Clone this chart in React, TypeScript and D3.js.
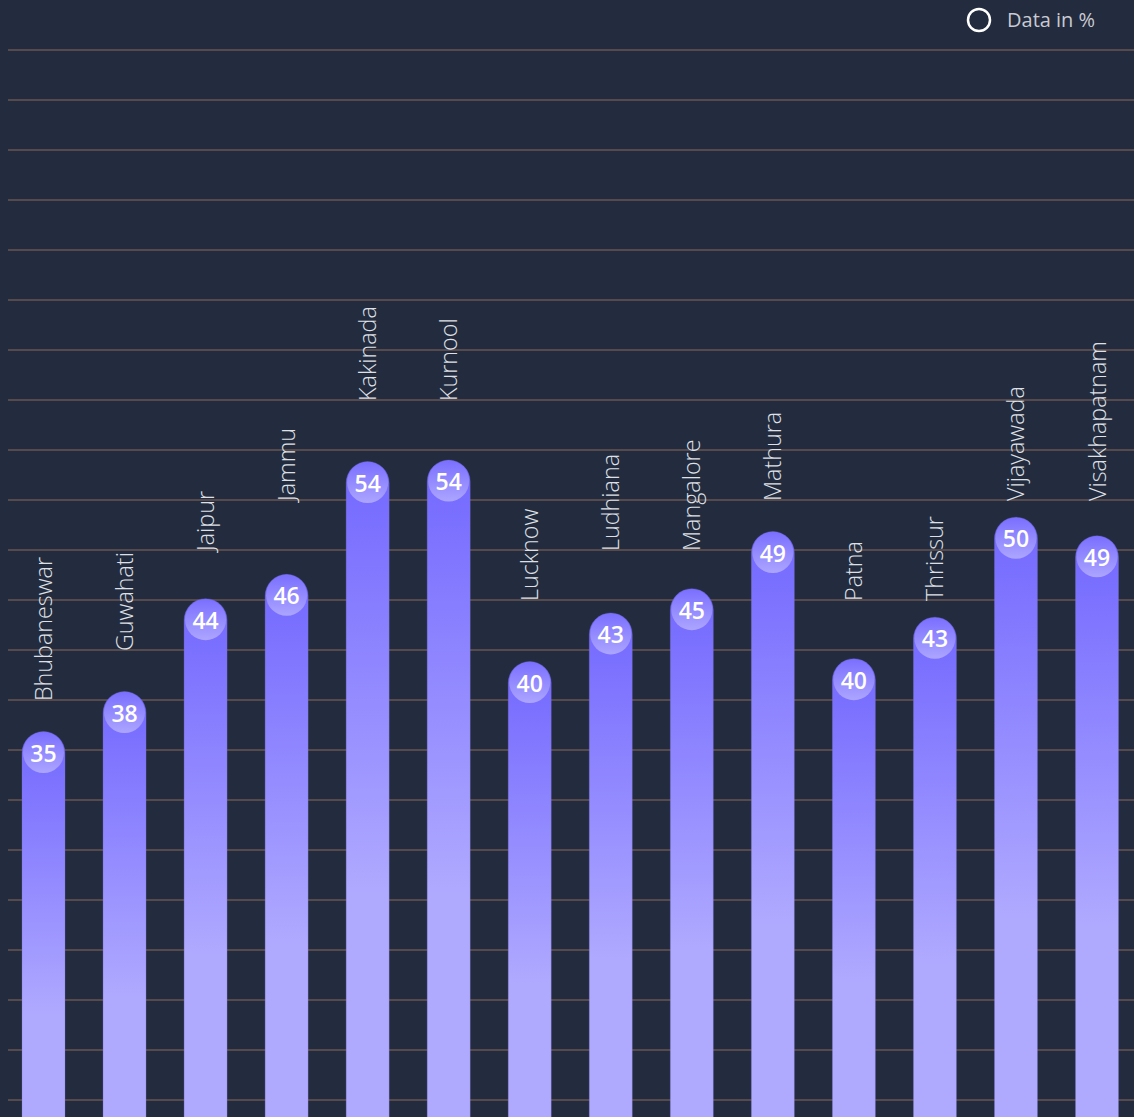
import React from "react";
import * as d3 from "d3";

const cities = [
  "Bhubaneswar", "Guwahati", "Jaipur", "Jammu", "Kakinada", "Kurnool", "Lucknow",
  "Ludhiana", "Mangalore", "Mathura", "Patna", "Thrissur", "Vijayawada", "Visakhapatnam",
];
const values = [35, 37.8, 44.3, 46, 53.9, 54, 39.9, 43.3, 45, 49, 40.1, 43, 50, 48.7];
// value level (same units as the bars) at which each rotated city label starts
const labelLevels = [38.5, 42, 49, 52.5, 59.5, 59.5, 45.5, 49, 49, 52.5, 45.5, 45.5, 52.5, 52.5];
const gridStep = 3.5;
const legendLabel = "Data in %";

const W = 1134;
const H = 1117;
const FONT = "'Open Sans', 'Noto Sans', sans-serif";

export default function App() {
  const x = d3.scalePoint<string>().domain(cities).range([43.5, 1097]);
  const y = d3.scaleLinear().domain([0, 87.5]).range([1250, 0]);
  const gridValues = d3.range(gridStep, 84 + 0.001, gridStep);
  const barW = 43;
  const r = barW / 2;
  const circleR = 20.5;
  const y0 = y(0);

  return (
    <div style={{ position: "fixed", left: 0, top: 0, width: W, height: H, background: "#232b3e" }}>
      <svg width={W} height={H} style={{ display: "block" }}>
        <defs>
          <linearGradient id="barGrad" x1="0" y1="0" x2="0" y2="1">
            <stop offset="0" stopColor="#7267ff" />
            <stop offset="0.55" stopColor="#b0aaff" />
            <stop offset="1" stopColor="#b0aaff" />
          </linearGradient>
          <linearGradient id="capGrad" x1="0" y1="0" x2="0" y2="1">
            <stop offset="0" stopColor="#7a6fff" />
            <stop offset="1" stopColor="#aca5ff" />
          </linearGradient>
        </defs>
        <rect x={0} y={0} width={W} height={H} fill="#232b3e" />
        {gridValues.map((v) => (
          <line key={v} x1={8} x2={W} y1={y(v)} y2={y(v)} stroke="#574a4d" strokeWidth={2} />
        ))}
        {cities.map((c, i) => {
          const cx = x(c)!;
          const cy = y(values[i]) + 2.5;
          const top = cy - circleR - 0.5;
          const path = `M${cx - r},${y0} L${cx - r},${top + r} A${r},${r} 0 0 1 ${cx + r},${top + r} L${cx + r},${y0} Z`;
          const ly = y(labelLevels[i]) + 1;
          return (
            <g key={c}>
              <path d={path} fill="url(#barGrad)" stroke="rgba(120,115,200,0.5)" strokeWidth={0.6} />
              <circle cx={cx} cy={cy} r={circleR} fill="url(#capGrad)" />
              <text
                x={cx}
                y={cy}
                textAnchor="middle"
                dominantBaseline="central"
                fill="#ffffff"
                fontFamily={FONT}
                fontWeight={600}
                fontSize={23}
              >
                {Math.round(values[i])}
              </text>
              <text
                transform={`translate(${cx + 8.5},${ly}) rotate(-90)`}
                fill="#dfe0e6"
                fontFamily={FONT}
                fontWeight={300}
                fontSize={23.3}
              >
                {c}
              </text>
            </g>
          );
        })}
        <circle cx={979} cy={20} r={11} fill="none" stroke="#ffffff" strokeWidth={2.5} />
        <text x={1007} y={27} fill="#c9cad2" fontFamily={FONT} fontWeight={400} fontSize={20}>
          {legendLabel}
        </text>
      </svg>
    </div>
  );
}
